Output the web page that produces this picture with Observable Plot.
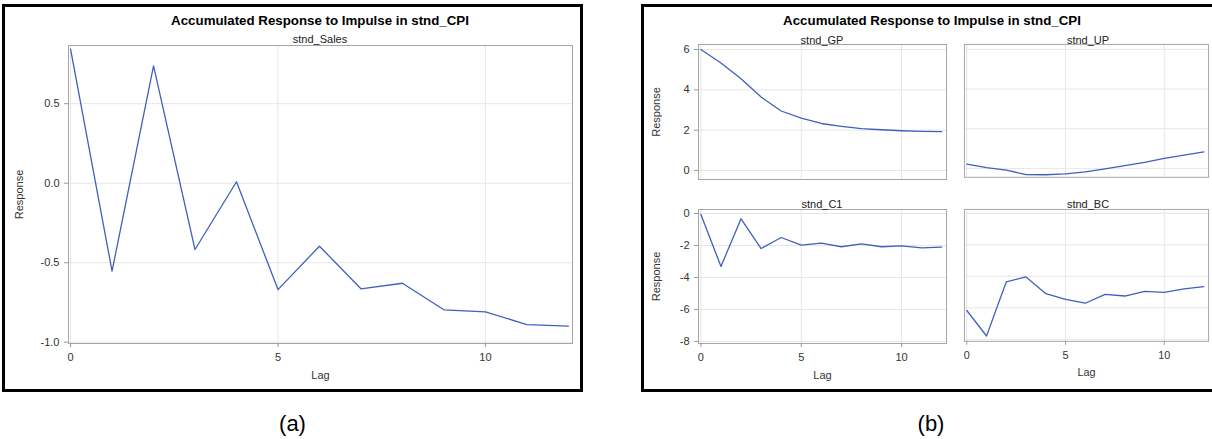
<!DOCTYPE html>
<html>
<head>
<meta charset="utf-8">
<script src="https://cdn.jsdelivr.net/npm/d3@7"></script>
<script src="https://cdn.jsdelivr.net/npm/@observablehq/plot@0.6"></script>
<style>
  body { margin: 0; background: #fff; font-family: "Liberation Sans", Arial, sans-serif; }
  #root { position: relative; width: 1212px; height: 439px; overflow: hidden; background: #fff; }
  .box { position: absolute; border: 3px solid #000; box-sizing: border-box; }
  .t { position: absolute; transform: translate(-50%, -50%); white-space: nowrap; line-height: 1; color: #000; }
  .title { font-weight: bold; font-size: 13.3px; }
  .sub { font-size: 11px; color: #222; }
  .cap { font-size: 22px; }
  .panel { position: absolute; }
  .panel svg { overflow: visible; }
</style>
</head>
<body>
<div id="root"></div>
<script>
// ---------- data ----------
const lags = [0, 1, 2, 3, 4, 5, 6, 7, 8, 9, 10, 11, 12];
const salesResponse = [0.843, -0.553, 0.738, -0.417, 0.009, -0.669, -0.396, -0.664, -0.629, -0.796, -0.809, -0.889, -0.899];
const gpResponse = [6.0, 5.33, 4.55, 3.64, 2.95, 2.60, 2.33, 2.19, 2.07, 2.02, 1.97, 1.94, 1.93];
const upResponse = [0.21, 0.04, -0.09, -0.31, -0.32, -0.28, -0.18, -0.03, 0.14, 0.30, 0.50, 0.67, 0.83];
const c1Response = [-0.06, -3.31, -0.33, -2.19, -1.50, -1.98, -1.85, -2.08, -1.90, -2.08, -2.02, -2.15, -2.10];
const bcResponse = [-6.17, -7.79, -4.35, -4.04, -5.10, -5.46, -5.71, -5.15, -5.25, -4.96, -5.02, -4.80, -4.66];

const titleText = "Accumulated Response to Impulse in stnd_CPI";
const panelNames = ["stnd_Sales", "stnd_GP", "stnd_UP", "stnd_C1", "stnd_BC"];
const captions = ["(a)", "(b)"];
const xLabel = "Lag";
const yLabel = "Response";
const xTicks = [0, 5, 10];
const salesTicks = [-1.0, -0.5, 0.0, 0.5];
const topRowTicks = [0, 2, 4, 6];
const bottomRowTicks = [-8, -6, -4, -2, 0];

// ---------- style ----------
const LINE = "#3f60bd";
const GRID = "#e6e6e6";
const FRAME = "#a6a6a6";
const TICKTEXT = "#333";
const FONT = "'Liberation Sans', Arial, sans-serif";

const root = document.getElementById("root");

function addDiv(cls, text, x, y) {
  const d = document.createElement("div");
  d.className = cls;
  d.textContent = text;
  d.style.left = x + "px";
  d.style.top = y + "px";
  root.appendChild(d);
  return d;
}
function addBox(x, y, w, h) {
  const d = document.createElement("div");
  d.className = "box";
  Object.assign(d.style, {left: x + "px", top: y + "px", width: w + "px", height: h + "px"});
  root.appendChild(d);
}

function panel(cfg) {
  const mL = cfg.showY ? 62 : 4, mR = 4, mT = 4, mB = cfg.showX ? 46 : 4;
  const w = cfg.x1 - cfg.x0 + mL + mR;
  const h = cfg.y1 - cfg.y0 + mT + mB;
  const rows = lags.map((lag, i) => ({lag, response: cfg.values[i]}));
  const marks = [
    Plot.gridX(xTicks, {stroke: GRID, strokeOpacity: 1}),
    Plot.gridY(cfg.yTicks, {stroke: GRID, strokeOpacity: 1}),
    Plot.frame({stroke: FRAME}),
    Plot.line(rows, {x: "lag", y: "response", stroke: LINE, strokeWidth: 1.3, strokeLinejoin: "round"})
  ];
  if (cfg.showX) {
    marks.push(Plot.axisX(xTicks, {
      tickSize: 4, tickPadding: 6, stroke: "#999", fill: TICKTEXT,
      tickFormat: d => String(d),
      label: xLabel, labelAnchor: "center", labelOffset: 35, labelArrow: "none"
    }));
  }
  if (cfg.showY) {
    marks.push(Plot.axisY(cfg.yTicks, {
      tickSize: 4, tickPadding: 5, stroke: "#999", fill: TICKTEXT,
      tickFormat: cfg.yFormat,
      label: yLabel, labelAnchor: "center", labelOffset: cfg.labelOffsetY, labelArrow: "none"
    }));
  }
  const chart = Plot.plot({
    width: w, height: h,
    marginLeft: mL, marginRight: mR, marginTop: mT, marginBottom: mB,
    x: {domain: cfg.xDomain, axis: null},
    y: {domain: cfg.yDomain, axis: null},
    style: {fontFamily: FONT, fontSize: "11px", color: TICKTEXT, background: "transparent", overflow: "visible"},
    marks
  });
  const wrap = document.createElement("div");
  wrap.className = "panel";
  wrap.style.left = (cfg.x0 - mL) + "px";
  wrap.style.top = (cfg.y0 - mT) + "px";
  wrap.appendChild(chart);
  root.appendChild(wrap);
  if (cfg.subtitle) addDiv("t sub", cfg.subtitle, (cfg.x0 + cfg.x1) / 2, cfg.subY);
}

// outer boxes
addBox(2, 4, 581, 388);
addBox(641, 4, 620, 388);

// (a) single panel
addDiv("t title", titleText, 320, 21);
panel({values: salesResponse, x0: 68, x1: 572, y0: 45, y1: 343,
  xDomain: [-0.05, 12.1], yDomain: [-1.008, 0.866], yTicks: salesTicks,
  yFormat: d => d.toFixed(1), showX: true, showY: true, labelOffsetY: 53,
  subtitle: panelNames[0], subY: 38.5});

// (b) 2x2 panels
addDiv("t title", titleText, 932, 21);
const rX = [[698, 946], [964, 1212]];
const rY = [[44, 179], [209, 343]];
const rXD = [-0.12, 12.24];
const topD = [-0.45, 6.25];
const botD = [-8.13, 0.25];
const intFmt = d => String(d);
panel({values: gpResponse, x0: rX[0][0], x1: rX[0][1], y0: rY[0][0], y1: rY[0][1],
  xDomain: rXD, yDomain: topD, yTicks: topRowTicks, yFormat: intFmt,
  showX: false, showY: true, labelOffsetY: 46, subtitle: panelNames[1], subY: 39.5});
panel({values: upResponse, x0: rX[1][0], x1: rX[1][1], y0: rY[0][0], y1: rY[0][1],
  xDomain: rXD, yDomain: topD, yTicks: topRowTicks, yFormat: intFmt,
  showX: false, showY: false, subtitle: panelNames[2], subY: 39.5});
panel({values: c1Response, x0: rX[0][0], x1: rX[0][1], y0: rY[1][0], y1: rY[1][1],
  xDomain: rXD, yDomain: botD, yTicks: bottomRowTicks, yFormat: intFmt,
  showX: true, showY: true, labelOffsetY: 46, subtitle: panelNames[3], subY: 203.5});
panel({values: bcResponse, x0: rX[1][0], x1: rX[1][1], y0: rY[1][0], y1: rY[1][1],
  xDomain: rXD, yDomain: botD, yTicks: bottomRowTicks, yFormat: intFmt,
  showX: true, showY: false, subtitle: panelNames[4], subY: 203.5});

// captions
addDiv("t cap", captions[0], 292.5, 424);
addDiv("t cap", captions[1], 931, 424);
</script>
</body>
</html>
